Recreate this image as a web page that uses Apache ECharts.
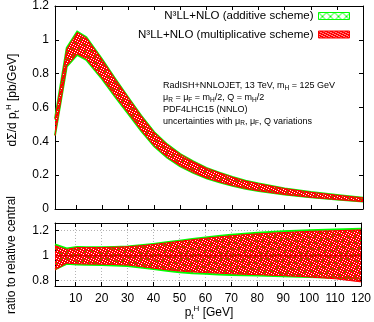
<!DOCTYPE html>
<html>
<head>
<meta charset="utf-8">
<script src="https://cdn.jsdelivr.net/npm/echarts@6/dist/echarts.min.js"></script>
<style>
html, body { margin: 0; padding: 0; background: #fff; }
#chart { width: 374px; height: 322px; }
</style>
</head>
<body>
<div id="chart"></div>
<script>
// pt^H nodes [GeV]
const ptH = [2, 6.5, 10.5, 14, 20, 25, 30, 35, 40, 45, 50, 55, 60, 65, 70, 75, 80, 90, 100, 110, 120];
// central prediction dSigma/dpt [pb/GeV]
const central = [0.49, 0.90, 0.98, 0.95, 0.83, 0.72, 0.615, 0.51, 0.415, 0.345, 0.29, 0.248, 0.212, 0.186, 0.162, 0.142, 0.127, 0.102, 0.083, 0.068, 0.055];
// uncertainty bands as ratio to central
const addLo = [0.89, 0.935, 0.93, 0.928, 0.926, 0.922, 0.917, 0.905, 0.893, 0.88, 0.868, 0.86, 0.855, 0.85, 0.846, 0.843, 0.841, 0.836, 0.83, 0.824, 0.818];
const addHi = [1.09, 1.058, 1.07, 1.068, 1.067, 1.07, 1.074, 1.083, 1.094, 1.107, 1.12, 1.133, 1.146, 1.157, 1.167, 1.176, 1.184, 1.195, 1.204, 1.21, 1.215];
const mulLo = [0.885, 0.94, 0.935, 0.933, 0.932, 0.929, 0.925, 0.913, 0.9, 0.888, 0.877, 0.87, 0.865, 0.86, 0.855, 0.851, 0.848, 0.84, 0.83, 0.815, 0.79];
const mulHi = [1.08, 1.05, 1.065, 1.065, 1.065, 1.068, 1.072, 1.08, 1.09, 1.102, 1.115, 1.128, 1.14, 1.15, 1.16, 1.168, 1.175, 1.185, 1.195, 1.2, 1.207];
const ratioCentral = [1, 1, 1, 1, 1, 1, 1, 1, 1, 1, 1, 1, 1, 1, 1, 1, 1, 1, 1, 1, 1];

const xTicks = [10, 20, 30, 40, 50, 60, 70, 80, 90, 100, 110, 120];
const ratioTicks = [0.8, 1, 1.2];

const addName = 'N³LL+NLO (additive scheme)';
const mulName = 'N³LL+NLO (multiplicative scheme)';

const FONT = '"Liberation Sans", Arial, sans-serif';
const GREEN = '#00ff00';
const RED = '#ff0000';

function makePattern(size, paint) {
    const c = document.createElement('canvas');
    c.width = size;
    c.height = size;
    paint(c.getContext('2d'));
    return { image: c, repeat: 'repeat' };
}

// red crosshatch: solid red with small transparent holes on a diagonal lattice
const redHatch = makePattern(5, ctx => {
    ctx.fillStyle = RED;
    ctx.fillRect(0, 0, 5, 5);
    [[0, 0], [2, 1], [4, 2], [1, 3], [3, 4]].forEach(p => ctx.clearRect(p[0], p[1], 1, 1));
});
// green crosshatch: thin diagonal lines on transparent
const greenHatch = makePattern(8, ctx => {
    ctx.fillStyle = GREEN;
    for (let i = 0; i < 8; i++) {
        ctx.fillRect(i, i, 1, 1);
        ctx.fillRect(i, 7 - i, 1, 1);
    }
});

// one filled band (polygon between lo and hi) drawn through the axis scales
function band(name, axis, lo, hi, scale, edge, edgeWidth, fill) {
    const base = scale || ratioCentral;
    return {
        type: 'custom', name, xAxisIndex: axis, yAxisIndex: axis, silent: true,
        data: ptH.map((x, i) => [x, base[i] * lo[i], base[i] * hi[i]]),
        encode: { x: 0, y: [1, 2] },
        renderItem: (params, api) => {
            if (params.dataIndex !== 0) return null;
            const lower = ptH.map((x, i) => api.coord([x, base[i] * lo[i]]));
            const upper = ptH.map((x, i) => api.coord([x, base[i] * hi[i]]));
            return {
                type: 'group',
                children: [
                    { type: 'polygon', shape: { points: lower.concat(upper.slice().reverse()) }, style: { fill: fill, stroke: null } },
                    { type: 'polyline', shape: { points: lower }, style: { fill: null, stroke: edge, lineWidth: edgeWidth } },
                    { type: 'polyline', shape: { points: upper }, style: { fill: null, stroke: edge, lineWidth: edgeWidth } }
                ]
            };
        }
    };
}

function xAxisCfg(gridIndex, position, labels, grid) {
    return {
        type: 'value', gridIndex, position, min: 2, max: 120,
        axisLine: { show: true, onZero: false, lineStyle: { color: '#000', width: 1 } },
        axisTick: { show: true, inside: true, length: 4, customValues: xTicks, lineStyle: { color: '#000' } },
        axisLabel: { show: labels, customValues: xTicks, margin: 7, color: '#000', fontSize: 12, fontFamily: FONT },
        splitLine: { show: grid, lineStyle: { color: '#b4b4b4', type: [1, 2] } }
    };
}

function yAxisCfg(gridIndex, position, labels, range, grid) {
    const cfg = {
        type: 'value', gridIndex, position, min: range[0], max: range[1],
        axisLine: { show: true, onZero: false, lineStyle: { color: '#000', width: 1 } },
        axisTick: { show: true, inside: true, length: 4, lineStyle: { color: '#000' } },
        axisLabel: { show: labels, margin: 6, color: '#000', fontSize: 12, fontFamily: FONT },
        splitLine: { show: grid, lineStyle: { color: '#b4b4b4', type: [1, 2] } }
    };
    if (range[2]) {
        cfg.interval = range[2];
    } else {
        cfg.axisTick.customValues = ratioTicks;
        cfg.axisLabel.customValues = ratioTicks;
    }
    return cfg;
}

const scriptRich = {
    sub: { font: '8px ' + FONT, verticalAlign: 'bottom', lineHeight: 8 },
    sup: { font: '8px ' + FONT, verticalAlign: 'top', lineHeight: 8 },
    s: { font: '6.5px ' + FONT, verticalAlign: 'bottom', lineHeight: 6.5 }
};

const chart = echarts.init(document.getElementById('chart'), null, { renderer: 'canvas' });

chart.setOption({
    animation: false,
    backgroundColor: '#fff',
    grid: [
        { left: 55, right: 11, top: 5, height: 204 },
        { left: 55, right: 11, top: 223, height: 63 }
    ],
    xAxis: [
        xAxisCfg(0, 'bottom', false, false),
        xAxisCfg(0, 'top', false, false),
        xAxisCfg(1, 'bottom', true, true),
        xAxisCfg(1, 'top', false, false)
    ],
    yAxis: [
        yAxisCfg(0, 'left', true, [0, 1.2, 0.2], false),
        yAxisCfg(0, 'right', false, [0, 1.2, 0.2], false),
        yAxisCfg(1, 'left', true, [0.757, 1.262], true),
        yAxisCfg(1, 'right', false, [0.757, 1.262], false)
    ],
    legend: {
        orient: 'vertical', right: 24, top: 10, padding: 0, align: 'right',
        itemWidth: 31, itemHeight: 7, itemGap: 6.5, selectedMode: false,
        textStyle: { color: '#000', fontSize: 11.5, fontFamily: FONT },
        data: [
            { name: addName, icon: 'rect', itemStyle: { color: greenHatch, borderColor: GREEN, borderWidth: 1 } },
            { name: mulName, icon: 'rect', itemStyle: { color: redHatch, borderColor: RED, borderWidth: 1 } }
        ]
    },
    graphic: [
        {
            type: 'text', x: 163, y: 80,
            style: {
                text: 'RadISH+NNLOJET, 13 TeV, m{s|H} = 125 GeV\n' +
                      'μ{s|R} = μ{s|F} = m{s|H}/2, Q = m{s|H}/2\n' +
                      'PDF4LHC15 (NNLO)\n' +
                      'uncertainties with μ{s|R}, μ{s|F}, Q variations',
                font: '9px ' + FONT, fill: '#000', lineHeight: 11.8,
                textAlign: 'left', textVerticalAlign: 'top', rich: scriptRich
            }
        },
        {
            type: 'text', x: 209, y: 313,
            style: {
                text: 'p{sub|t}{sup|H} [GeV]', font: '12px ' + FONT, fill: '#000', lineHeight: 16,
                textAlign: 'center', textVerticalAlign: 'middle', rich: scriptRich
            }
        },
        {
            type: 'text', x: 12.5, y: 100, rotation: Math.PI / 2,
            style: {
                text: 'dΣ/d p{sub|t}{sup|H} [pb/GeV]', font: '12px ' + FONT, fill: '#000', lineHeight: 16,
                textAlign: 'center', textVerticalAlign: 'middle', rich: scriptRich
            }
        },
        {
            type: 'text', x: 11.5, y: 255, rotation: Math.PI / 2,
            style: {
                text: 'ratio to relative central', font: '12px ' + FONT, fill: '#000',
                textAlign: 'center', textVerticalAlign: 'middle'
            }
        }
    ],
    series: [
        band(addName, 0, addLo, addHi, central, GREEN, 2, greenHatch),
        band(mulName, 0, mulLo, mulHi, central, RED, 1, redHatch),
        band(addName, 2, addLo, addHi, null, GREEN, 2, greenHatch),
        band(mulName, 2, mulLo, mulHi, null, RED, 1, redHatch),
        {
            type: 'line', name: 'central', xAxisIndex: 2, yAxisIndex: 2,
            data: ptH.map((x, i) => [x, ratioCentral[i]]),
            symbol: 'none', silent: true,
            lineStyle: { color: '#dd0000', width: 1.5 }
        }
    ]
});
</script>
</body>
</html>
